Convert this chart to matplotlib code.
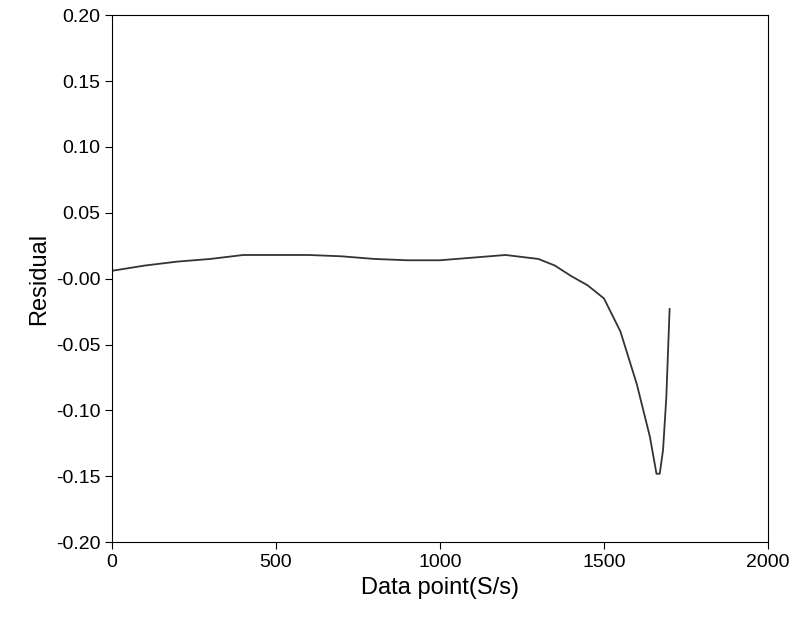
import numpy as np
from matplotlib import pyplot as plt

plt.rcParams['font.family'] = ['Liberation Sans', 'DejaVu Sans']

# residual curve
x_pts = [0, 100, 200, 300, 400, 500, 600, 700, 800, 900, 1000, 1100, 1200,
         1300, 1350, 1400, 1450, 1500, 1550, 1600, 1640, 1660, 1670, 1680, 1690, 1700]
y_pts = [0.006, 0.010, 0.013, 0.015, 0.018, 0.018, 0.018, 0.017, 0.015, 0.014,
         0.014, 0.016, 0.018, 0.015, 0.010, 0.002, -0.005, -0.015, -0.040, -0.080,
         -0.120, -0.148, -0.148, -0.130, -0.090, -0.023]

fig = plt.figure(figsize=(8, 6.32), dpi=100)
ax = fig.add_axes([0.14, 0.142, 0.82, 0.834])
ax.plot(x_pts, y_pts, color='#333333', lw=1.3)

ax.set_xlim(0, 2000)
ax.set_ylim(-0.2, 0.2)
ax.set_xticks([0, 500, 1000, 1500, 2000])
ax.set_yticks(np.arange(-0.2, 0.201, 0.05))
ax.set_yticklabels([f'{v:.2f}' for v in np.arange(-0.2, 0.201, 0.05)])
ax.tick_params(labelsize=14, direction='out', length=5)
ax.set_xlabel('Data point(S/s)', fontsize=17)
ax.set_ylabel('Residual', fontsize=17)
fig.savefig('out.png')
